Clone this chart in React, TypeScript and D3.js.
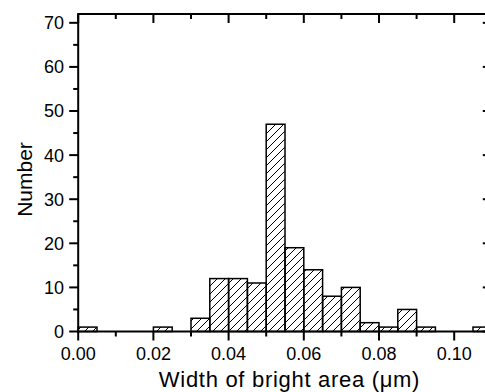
import React from "react";
import * as d3 from "d3";

const binStarts = [0, 0.005, 0.01, 0.015, 0.02, 0.025, 0.03, 0.035, 0.04, 0.045, 0.05, 0.055, 0.06, 0.065, 0.07, 0.075, 0.08, 0.085, 0.09, 0.095, 0.1, 0.105];
const counts = [1, 0, 0, 0, 1, 0, 3, 12, 12, 11, 47, 19, 14, 8, 10, 2, 1, 5, 1, 0, 0, 1];
const binWidth = 0.005;
const xTicks = [0, 0.02, 0.04, 0.06, 0.08, 0.1];
const xMinorTicks = [0.01, 0.03, 0.05, 0.07, 0.09, 0.11];
const yTicks = [0, 10, 20, 30, 40, 50, 60, 70];
const yMinorTicks = [5, 15, 25, 35, 45, 55, 65];
const xTitle = "Width of bright area (μm)";
const yTitle = "Number";

const W = 485;
const H = 392;
const FONT = "'Liberation Sans', Arial, Helvetica, sans-serif";

export default function App() {
  const x = d3.scaleLinear().domain([0, 0.11]).range([78.2, 491.8]);
  const y = d3.scaleLinear().domain([0, 72]).range([331.5, 14]);
  const [x0, x1] = x.range();
  const [yb, yt] = y.range();
  const major = 9;
  const minor = 5;

  return (
    <svg width={W} height={H} style={{ position: "absolute", left: 0, top: 0, background: "#fff" }}>
      <defs>
        <pattern id="hatch" patternUnits="userSpaceOnUse" width={8} height={8}>
          <path d="M-2,2 L2,-2 M0,8 L8,0 M6,10 L10,6" stroke="#000" strokeWidth={1} />
        </pattern>
      </defs>
      <rect x={0} y={0} width={W} height={H} fill="#fff" />
      {binStarts.map((b, i) =>
        counts[i] > 0 ? (
          <rect
            key={i}
            x={x(b)}
            y={y(counts[i])}
            width={x(b + binWidth) - x(b)}
            height={yb - y(counts[i])}
            fill="url(#hatch)"
            stroke="#000"
            strokeWidth={1.5}
          />
        ) : null
      )}
      {/* frame */}
      <rect x={x0} y={yt} width={x1 - x0} height={yb - yt} fill="none" stroke="#000" strokeWidth={2} />
      {/* x ticks bottom & top */}
      {xTicks.map((t) => (
        <g key={"xt" + t}>
          <line x1={x(t)} x2={x(t)} y1={yb} y2={yb + major} stroke="#000" strokeWidth={2} />
          <line x1={x(t)} x2={x(t)} y1={yt} y2={yt + major} stroke="#000" strokeWidth={2} />
          <text x={x(t)} y={360} textAnchor="middle" fontFamily={FONT} fontSize={18} fill="#000">
            {d3.format(".2f")(t)}
          </text>
        </g>
      ))}
      {xMinorTicks.map((t) => (
        <g key={"xm" + t}>
          <line x1={x(t)} x2={x(t)} y1={yb} y2={yb + minor} stroke="#000" strokeWidth={2} />
          <line x1={x(t)} x2={x(t)} y1={yt} y2={yt + minor} stroke="#000" strokeWidth={2} />
        </g>
      ))}
      {/* y ticks left & right */}
      {yTicks.map((t) => (
        <g key={"yt" + t}>
          <line x1={x0 - major} x2={x0} y1={y(t)} y2={y(t)} stroke="#000" strokeWidth={2} />
          <line x1={x1 - major} x2={x1} y1={y(t)} y2={y(t)} stroke="#000" strokeWidth={2} />
          <text x={64} y={y(t) + 6.4} textAnchor="end" fontFamily={FONT} fontSize={18} fill="#000">
            {t}
          </text>
        </g>
      ))}
      {yMinorTicks.map((t) => (
        <g key={"ym" + t}>
          <line x1={x0 - minor} x2={x0} y1={y(t)} y2={y(t)} stroke="#000" strokeWidth={2} />
          <line x1={x1 - minor} x2={x1} y1={y(t)} y2={y(t)} stroke="#000" strokeWidth={2} />
        </g>
      ))}
      <text x={289.5} y={387} textAnchor="middle" fontFamily={FONT} fontSize={22} letterSpacing={0.7} fill="#000">
        {xTitle}
      </text>
      <text
        transform={`translate(31.5,179.5) rotate(-90)`}
        textAnchor="middle"
        fontFamily={FONT}
        fontSize={21}
        fill="#000"
      >
        {yTitle}
      </text>
    </svg>
  );
}
